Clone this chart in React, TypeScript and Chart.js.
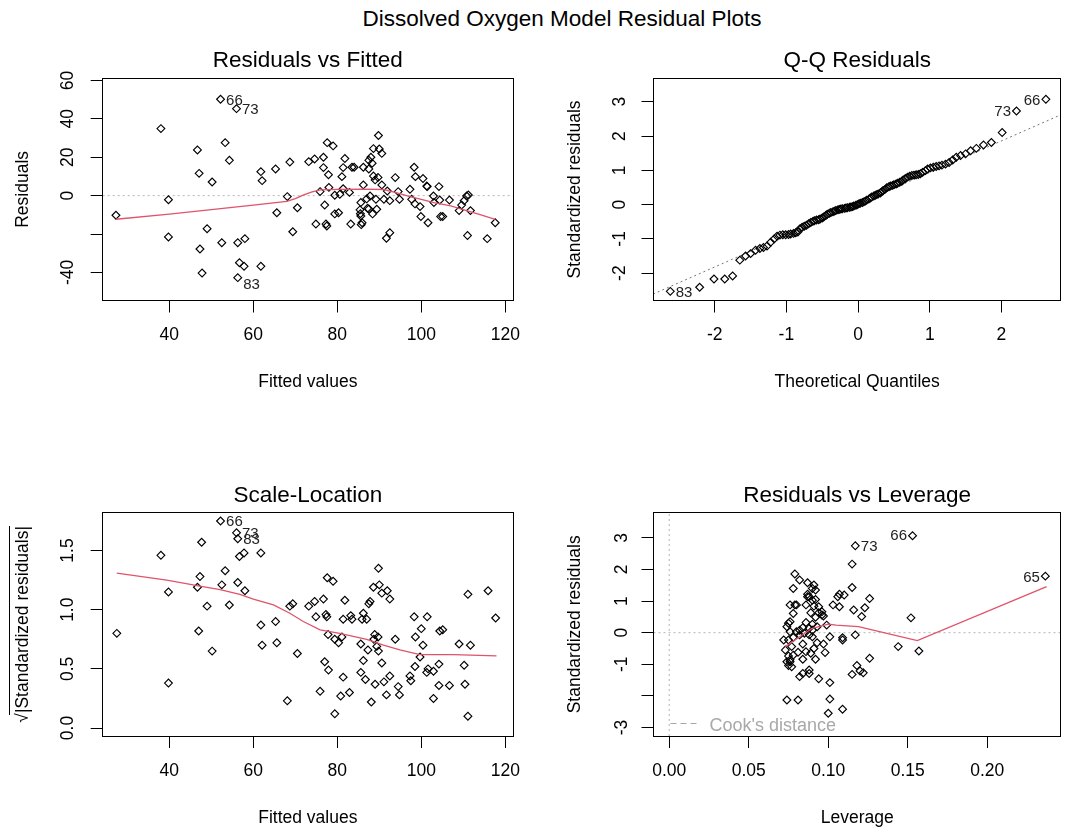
import React, { useEffect, useRef } from "react";
import { Chart, registerables } from "chart.js";
Chart.register(...registerables);

const FONT = '"Liberation Sans", Arial, Helvetica, sans-serif';
const TICK_FONT = 17.5;
const TITLE_FONT = 22.5;
const LABEL_FONT = 15;
const RED = "#DF536B";

const MAIN_TITLE = "Dissolved Oxygen Model Residual Plots";

// ---------- Residuals vs Fitted ----------
const RVF_FITTED = [27.3, 38.0, 39.8, 39.8, 46.7, 47.1, 49.0, 47.3, 47.8, 50.2, 52.2, 56.0, 53.3, 54.3, 52.5, 56.3, 58.0, 56.7, 57.8, 56.3, 61.8, 61.8, 62.1, 65.3, 65.6, 68.1, 68.7, 69.4, 70.5, 73.2, 74.6, 74.9, 75.9, 76.7, 76.7, 77.0, 77.3, 77.5, 77.6, 79.0, 77.9, 78.0, 79.4, 79.4, 80.3, 80.6, 81.1, 81.4, 81.8, 81.4, 82.9, 83.2, 83.5, 84.0, 85.6, 85.5, 85.7, 85.9, 86.2, 86.2, 87.0, 87.5, 87.5, 88.0, 87.8, 87.5, 88.4, 88.6, 88.6, 89.0, 89.2, 89.4, 89.8, 90.0, 90.6, 89.7, 90.6, 91.1, 91.7, 92.5, 91.9, 92.5, 93.8, 94.5, 94.8, 97.3, 97.7, 98.3, 98.6, 98.5, 99.7, 99.9, 100.4, 101.3, 101.4, 101.6, 102.9, 103.0, 104.2, 104.4, 104.6, 105.1, 106.7, 109.0, 109.6, 110.2, 110.8, 111.2, 111.0, 111.7, 115.7, 117.6, 85.4, 87.2, 85.6, 88.3];
const RVF_RESID = [-10.2, 34.9, -2.1, -21.5, 23.8, 11.6, -17.2, -27.8, -40.3, 7.1, 50.2, 45.3, 27.6, 18.4, -24.5, -24.5, -22.4, -34.9, -36.8, -42.7, -36.8, 12.5, 7.8, 13.9, -8.9, -0.5, 17.5, -18.8, -6.3, 17.7, 19.1, -14.8, 2.1, 20.0, 14.6, -4.9, -14.8, -15.8, 27.6, 25.9, 10.9, 4.3, 0.2, -9.5, -8.9, 0.7, 9.9, 14.6, 19.3, 3.6, 1.7, -14.8, 14.8, 14.8, -3.6, -9.4, -15.1, -14.1, 5.6, 14.8, -1.7, 13.9, 18.4, 20.0, -0.2, -6.9, -9.5, 24.5, 10.2, 8.2, -1.9, -7.1, 31.3, 24.3, 22.0, 9.5, 5.6, -1.9, -22.2, -19.3, 2.4, -2.6, 9.4, 2.1, -1.9, 3.3, -1.9, 14.8, 9.9, -4.3, -5.7, -10.9, 8.9, 5.0, 4.7, -14.1, -0.2, -3.6, 4.7, -2.3, -10.9, -10.9, -2.3, -7.8, -4.9, -2.6, -0.2, 0.3, -20.8, -7.8, -22.4, -14.1, -7.4, -6.6, -10.6, 16.9];
const RVF_SMOOTH_X = [27.3, 40, 50, 60, 68, 70, 72, 74, 76, 80, 86, 91, 94, 97.3, 100, 103, 107, 110.8, 114, 117.6];
const RVF_SMOOTH_Y = [-12.3, -9.6, -7.3, -4.9, -3.0, -1.6, 0.4, 2.0, 3.0, 3.3, 3.4, 3.2, 1.6, -0.5, -2.0, -3.6, -5.3, -7.8, -9.9, -12.3];
const RVF_X_TICKS = [40, 60, 80, 100, 120];
const RVF_Y_TICKS = [-40, -20, 0, 20, 40, 60];

// ---------- Q-Q Residuals ----------
const QQ_THEO = [-2.62, -2.21, -2.01, -1.86, -1.75, -1.65, -1.57, -1.50, -1.43, -1.37, -1.32, -1.27, -1.22, -1.17, -1.13, -1.09, -1.05, -1.01, -0.97, -0.94, -0.90, -0.87, -0.84, -0.81, -0.78, -0.75, -0.72, -0.69, -0.66, -0.63, -0.61, -0.58, -0.55, -0.53, -0.50, -0.48, -0.45, -0.43, -0.40, -0.38, -0.35, -0.33, -0.31, -0.28, -0.26, -0.24, -0.22, -0.19, -0.17, -0.15, -0.12, -0.10, -0.08, -0.06, -0.03, -0.01,
  0.01, 0.03, 0.06, 0.08, 0.10, 0.12, 0.15, 0.17, 0.19, 0.22, 0.24, 0.26, 0.28, 0.31, 0.33, 0.35, 0.38, 0.40, 0.43, 0.45, 0.48, 0.50, 0.53, 0.55, 0.58, 0.61, 0.63, 0.66, 0.69, 0.72, 0.75, 0.78, 0.81, 0.84, 0.87, 0.90, 0.94, 0.97, 1.01, 1.05, 1.09, 1.13, 1.17, 1.22, 1.27, 1.32, 1.37, 1.43, 1.50, 1.57, 1.65, 1.75, 1.86, 2.01, 2.21, 2.62];
const QQ_STD = [-2.53, -2.41, -2.17, -2.17, -2.08, -1.62, -1.50, -1.43, -1.33, -1.28, -1.25, -1.21, -1.10, -1.00, -0.92, -0.89, -0.88, -0.88, -0.87, -0.86, -0.84, -0.82, -0.80, -0.70, -0.66, -0.63, -0.60, -0.56, -0.52, -0.49, -0.47, -0.45, -0.44, -0.42, -0.39, -0.36, -0.32, -0.28, -0.25, -0.23, -0.21, -0.19, -0.17, -0.15, -0.14, -0.13, -0.12, -0.11, -0.10, -0.09, -0.08, -0.07, -0.06, -0.04, -0.02, 0.00,
  0.02, 0.04, 0.06, 0.08, 0.10, 0.13, 0.16, 0.19, 0.22, 0.25, 0.27, 0.29, 0.31, 0.34, 0.37, 0.41, 0.45, 0.49, 0.52, 0.54, 0.56, 0.58, 0.60, 0.62, 0.65, 0.68, 0.72, 0.76, 0.80, 0.83, 0.85, 0.86, 0.87, 0.88, 0.90, 0.94, 0.99, 1.04, 1.07, 1.09, 1.11, 1.13, 1.15, 1.18, 1.23, 1.30, 1.38, 1.43, 1.48, 1.57, 1.64, 1.74, 1.81, 2.10, 2.73, 3.07];
const QQ_LINE_X = [-2.86, 2.83];
const QQ_LINE_Y = [-2.61, 2.62];
const QQ_X_TICKS = [-2, -1, 0, 1, 2];
const QQ_Y_TICKS = [-2, -1, 0, 1, 2, 3];

// ---------- Scale-Location ----------
const SL_FITTED = [27.5, 38.0, 39.8, 39.8, 46.7, 47.3, 47.7, 47.0, 49.0, 50.2, 52.2, 53.3, 52.5, 54.3, 56.0, 56.3, 56.3, 56.7, 57.8, 58.0, 61.8, 61.8, 62.1, 65.3, 65.6, 68.1, 68.7, 69.4, 70.5, 73.2, 74.6, 74.9, 75.9, 76.7, 77.0, 77.3, 77.5, 77.6, 77.9, 79.0, 77.8, 79.4, 79.4, 80.3, 80.8, 81.1, 81.4, 81.8, 81.4, 82.9, 83.2, 83.5, 85.6, 85.6, 85.9, 86.2, 86.7, 86.2, 87.0, 87.5, 87.8, 87.3, 88.1, 88.6, 88.7, 88.9, 89.0, 89.4, 89.8, 90.0, 90.6, 89.7, 89.8, 90.6, 91.1, 91.7, 91.9, 92.5, 92.5, 93.8, 94.5, 94.8, 97.3, 97.5, 98.3, 98.5, 98.6, 99.7, 100.0, 100.4, 101.4, 101.3, 101.6, 102.9, 102.9, 104.2, 104.2, 104.4, 105.1, 106.7, 109.0, 110.2, 110.4, 111.1, 111.7, 111.1, 115.9, 117.7];
const SL_ROOT = [0.80, 1.46, 1.15, 0.38, 1.19, 1.28, 1.57, 0.82, 1.03, 0.65, 1.75, 1.33, 1.21, 1.04, 1.65, 1.60, 1.23, 1.45, 1.48, 1.16, 1.48, 0.87, 0.70, 0.90, 0.72, 0.23, 1.03, 1.05, 0.63, 1.03, 1.07, 0.94, 0.31, 1.09, 0.56, 0.96, 0.94, 1.27, 0.49, 1.24, 0.79, 0.12, 0.75, 0.72, 0.27, 0.77, 0.43, 1.08, 0.92, 0.30, 0.95, 0.92, 0.71, 0.47, 0.92, 0.57, 0.41, 0.97, 0.92, 1.05, 1.07, 0.66, 0.22, 1.19, 0.75, 0.79, 0.37, 0.69, 1.35, 1.21, 1.14, 0.77, 0.65, 0.55, 0.39, 0.28, 1.16, 1.09, 0.44, 0.75, 0.35, 0.28, 0.44, 0.40, 0.94, 0.52, 0.77, 0.60, 0.84, 0.70, 0.94, 0.47, 0.50, 0.48, 0.25, 0.54, 0.36, 0.82, 0.83, 0.36, 0.71, 0.53, 0.37, 1.13, 0.70, 0.10, 1.16, 0.93];
const SL_SMOOTH_X = [27.5, 39.4, 47.3, 52.1, 56.8, 60.0, 64.8, 68.7, 71.9, 75.9, 80.6, 87.0, 91.0, 94.9, 99.7, 107.6, 117.9];
const SL_SMOOTH_Y = [1.31, 1.25, 1.20, 1.17, 1.13, 1.09, 1.04, 0.97, 0.90, 0.83, 0.80, 0.75, 0.70, 0.66, 0.62, 0.62, 0.61];
const SL_Y_TICKS = [0, 0.5, 1, 1.5];

// ---------- Residuals vs Leverage ----------
const LEV_H = [0.153, 0.117, 0.2365, 0.115, 0.115, 0.126, 0.123, 0.121, 0.116, 0.117, 0.110, 0.107, 0.106, 0.107, 0.103, 0.099, 0.101, 0.109, 0.109, 0.098, 0.101, 0.101, 0.100, 0.109, 0.115, 0.118, 0.120, 0.122, 0.126, 0.144, 0.152, 0.157, 0.094, 0.088, 0.088, 0.082, 0.084, 0.084, 0.074, 0.081, 0.075, 0.074, 0.076, 0.073, 0.072, 0.075, 0.077, 0.076, 0.075, 0.078, 0.076, 0.079, 0.078, 0.079, 0.082, 0.087, 0.091, 0.092, 0.088, 0.090, 0.092, 0.086, 0.091, 0.089, 0.094, 0.096, 0.097, 0.092, 0.086, 0.090, 0.088, 0.084, 0.082, 0.080, 0.085, 0.088, 0.090, 0.093, 0.097, 0.091, 0.084, 0.086, 0.089, 0.092, 0.081, 0.078, 0.075, 0.078, 0.082, 0.074, 0.076, 0.080, 0.087, 0.090, 0.087, 0.094, 0.096, 0.076, 0.077, 0.090, 0.093];
const LEV_STD = [3.07, 2.75, 1.79, 2.17, 1.43, 1.08, 0.79, 0.51, 0.72, -0.07, 1.19, 1.22, 1.14, 0.82, 0.88, 0.24, -0.13, -0.16, -0.23, -0.63, -1.58, -2.10, -2.55, -2.42, -1.32, -1.04, -1.21, -1.27, -0.81, -0.44, 0.47, -0.58, -1.46, -1.18, -1.29, -1.39, -1.29, -0.84, -2.13, -2.13, -1.04, -0.92, -0.86, -0.55, -0.23, -0.23, -0.44, 0.03, 0.30, 0.61, 0.88, 0.88, 1.40, 1.86, 1.67, 1.58, 1.51, 1.35, 1.14, 1.03, 1.05, 0.88, 0.84, 0.63, 0.63, 0.56, 0.53, 0.49, 0.32, 0.27, 0.14, 0.16, 0.08, 0.03, -0.02, -0.07, -0.13, -0.32, -0.36, -0.50, -0.36, -0.60, -0.65, -0.84, -0.62, -0.71, -0.74, -0.15, -0.07, 0.19, 0.35, 0.88, 1.14, 1.40, 1.22, 0.82, 0.66, -0.92, -1.08, 0.08, 0.19];
const LEV_SMOOTH_X = [0.073, 0.082, 0.090, 0.100, 0.105, 0.119, 0.156, 0.2373];
const LEV_SMOOTH_Y = [-0.44, -0.13, 0.14, 0.27, 0.24, 0.19, -0.25, 1.46];
const LEV_X_TICKS = [0, 0.05, 0.1, 0.15, 0.2];
const LEV_Y_TICKS = [-3, -2, -1, 0, 1, 2, 3];

type Label = { x: number; y: number; text: string; side: "l" | "r"; dy: number };

const pairs = (xs: number[], ys: number[]) => xs.map((x, i) => ({ x, y: ys[i] }));

const pointsDs = (xs: number[], ys: number[]) => ({
  data: pairs(xs, ys),
  pointStyle: "rectRot",
  pointRadius: 3.9,
  borderColor: "#000",
  backgroundColor: "rgba(0,0,0,0)",
  pointBorderWidth: 1.15,
  showLine: false,
});
const lineDs = (xs: number[], ys: number[], color: string, dash: number[] = [], width = 1.3) => ({
  data: pairs(xs, ys),
  showLine: true,
  borderColor: color,
  borderWidth: width,
  borderDash: dash,
  pointRadius: 0,
  fill: false,
  tension: 0,
});

interface PanelSpec {
  cx: number; cy: number; cw: number; ch: number;
  L: number; T: number; R: number; B: number;
  title: string; titleCY: number;
  xTitle: string; xTitleCY: number; xLabelCY: number;
  yTitle: string; yTitleCX: number; yLabelCX: number; yWidest: number;
  xMin: number; xMax: number; yMin: number; yMax: number;
  xTicks: number[]; yTicks: number[];
  xFmt: (v: number) => string; yFmt: (v: number) => string;
  datasets: any[];
  labels: Label[];
  extra?: (chart: any, p: PanelSpec) => void;
}

const align = (v: number) => Math.round(v - 0.5) + 0.5;

function buildConfig(p: PanelSpec): any {
  const tl = 12;
  const half = (TICK_FONT * 1.2) / 2;
  const tLH = TITLE_FONT * 1.2;
  const yW = p.L - p.cx;
  const xH = p.xTitleCY - p.B + half;
  const titleTop = p.titleCY - p.cy - tLH / 2;
  const titleBottom = p.T - p.cy - titleTop - tLH;
  const padRight = p.cx + p.cw - p.R;
  const padBottom = p.cy + p.ch - (p.B + xH);
  const tickFont = { size: TICK_FONT, family: FONT };

  const deco = {
    id: "deco",
    afterDraw(chart: any) {
      const { ctx, chartArea } = chart;
      const { left, top, right, bottom } = chartArea;
      ctx.save();
      ctx.strokeStyle = "#000";
      ctx.lineWidth = 1;
      const l = align(left), t = align(top), r = align(right), b = align(bottom);
      ctx.strokeRect(l, t, r - l, b - t);
      const xs = chart.scales.x, ys = chart.scales.y;
      ctx.font = `${LABEL_FONT}px ${FONT}`;
      ctx.fillStyle = "#222";
      ctx.textBaseline = "middle";
      for (const lb of p.labels) {
        const px = xs.getPixelForValue(lb.x);
        const py = ys.getPixelForValue(lb.y) + lb.dy;
        if (lb.side === "r") {
          ctx.textAlign = "left";
          ctx.fillText(lb.text, px + 5.5, py);
        } else {
          ctx.textAlign = "right";
          ctx.fillText(lb.text, px - 5.5, py);
        }
      }
      ctx.restore();
      if (p.extra) p.extra(chart, p);
    },
  };

  return {
    type: "scatter",
    data: { datasets: p.datasets },
    plugins: [deco],
    options: {
      responsive: false,
      animation: false,
      devicePixelRatio: 1,
      events: [],
      layout: { padding: { left: 0, right: padRight, top: 0, bottom: padBottom } },
      plugins: {
        legend: { display: false },
        tooltip: { enabled: false },
        title: {
          display: true,
          text: p.title,
          fullSize: false,
          color: "#000",
          font: { size: TITLE_FONT, family: FONT, weight: "normal" },
          padding: { top: titleTop, bottom: titleBottom },
        },
      },
      scales: {
        x: {
          type: "linear",
          position: "bottom",
          min: p.xMin,
          max: p.xMax,
          afterBuildTicks: (s: any) => {
            s.ticks = p.xTicks.map((v) => ({ value: v }));
          },
          afterFit: (s: any) => {
            s.height = xH;
          },
          grid: { display: true, drawOnChartArea: false, drawTicks: true, tickLength: tl, color: "#000", lineWidth: 1 },
          border: { display: true, color: "#000", width: 1 },
          ticks: {
            autoSkip: false,
            minRotation: 0,
            maxRotation: 0,
            padding: p.xLabelCY - p.B - tl - half,
            color: "#000",
            font: tickFont,
            callback: (v: any) => p.xFmt(Number(v)),
          },
          title: { display: true, text: p.xTitle, color: "#000", font: tickFont, padding: { top: 0, bottom: 0 } },
        },
        y: {
          type: "linear",
          position: "left",
          min: p.yMin,
          max: p.yMax,
          afterBuildTicks: (s: any) => {
            s.ticks = p.yTicks.map((v) => ({ value: v }));
          },
          afterFit: (s: any) => {
            s.width = yW;
          },
          grid: { display: true, drawOnChartArea: false, drawTicks: true, tickLength: tl, color: "#000", lineWidth: 1 },
          border: { display: true, color: "#000", width: 1 },
          ticks: {
            autoSkip: false,
            minRotation: 90,
            maxRotation: 90,
            crossAlign: "center",
            padding: p.L - p.yLabelCX - tl - p.yWidest / 2,
            color: "#000",
            font: tickFont,
            callback: (v: any) => p.yFmt(Number(v)),
          },
          title: {
            display: true,
            text: p.yTitle,
            color: "#000",
            font: tickFont,
            padding: { top: p.yTitleCX - p.cx - half, bottom: 0 },
          },
        },
      },
    },
  };
}

// panel boxes
const LEFT_L = 102.7, LEFT_R = 513;
const RIGHT_L = 653.5, RIGHT_R = 1063.3;
const TOP_T = 78.3, TOP_B = 300.5;
const BOT_T = 512.7, BOT_B = 736;

const RVF_MIN = 40 - (169.3 - LEFT_L) / 4.2;
const RVF_MAX = 40 + (LEFT_R - 169.3) / 4.2;

const cooksLegend = (chart: any) => {
  const { ctx, chartArea } = chart;
  const y = chartArea.bottom - 13;
  ctx.save();
  ctx.strokeStyle = "#A6A6A6";
  ctx.lineWidth = 1;
  ctx.setLineDash([6, 4]);
  ctx.beginPath();
  ctx.moveTo(chartArea.left + 17, align(y));
  ctx.lineTo(chartArea.left + 47, align(y));
  ctx.stroke();
  ctx.setLineDash([]);
  ctx.fillStyle = "#A9A9A9";
  ctx.font = `18px ${FONT}`;
  ctx.textAlign = "left";
  ctx.textBaseline = "middle";
  ctx.fillText("Cook's distance", chartArea.left + 56, chartArea.bottom - 10);
  ctx.restore();
};

// overbar of the square-root sign in the Scale-Location axis title
const sqrtBar = (chart: any, p: PanelSpec) => {
  const { ctx, chartArea } = chart;
  ctx.save();
  ctx.font = `${TICK_FONT}px ${FONT}`;
  const w = ctx.measureText(p.yTitle).width;
  const wr = ctx.measureText("√").width;
  const cy = (chartArea.top + chartArea.bottom) / 2;
  const x = align(p.yTitleCX - p.cx - 13.2);
  ctx.strokeStyle = "#000";
  ctx.lineWidth = 1;
  ctx.beginPath();
  ctx.moveTo(x, cy + w / 2 - wr * 0.8);
  ctx.lineTo(x, cy - w / 2);
  ctx.stroke();
  ctx.restore();
};

const intFmt = (v: number) => String(Math.round(v * 100) / 100);

const PANELS: PanelSpec[] = [
  {
    cx: 0, cy: 30, cw: 533, ch: 380,
    L: LEFT_L, T: TOP_T, R: LEFT_R, B: TOP_B,
    title: "Residuals vs Fitted", titleCY: 61,
    xTitle: "Fitted values", xTitleCY: 382, xLabelCY: 335,
    yTitle: "Residuals", yTitleCX: 23, yLabelCX: 68, yWidest: 25.3,
    xMin: RVF_MIN, xMax: RVF_MAX, yMin: -54.6, yMax: 61.1,
    xTicks: RVF_X_TICKS, yTicks: RVF_Y_TICKS,
    xFmt: intFmt, yFmt: (v) => (v === -20 ? "" : intFmt(v)),
    datasets: [
      lineDs(RVF_SMOOTH_X, RVF_SMOOTH_Y, RED),
      pointsDs(RVF_FITTED, RVF_RESID),
      lineDs([RVF_MIN, RVF_MAX], [0, 0], "#B5B5B5", [2, 3], 1),
    ],
    labels: [
      { x: 52.2, y: 50.2, text: "66", side: "r", dy: 2 },
      { x: 56.0, y: 45.3, text: "73", side: "r", dy: 1 },
      { x: 56.3, y: -42.7, text: "83", side: "r", dy: 7 },
    ],
  },
  {
    cx: 533, cy: 30, cw: 533, ch: 380,
    L: RIGHT_L, T: TOP_T, R: RIGHT_R, B: TOP_B,
    title: "Q-Q Residuals", titleCY: 61,
    xTitle: "Theoretical Quantiles", xTitleCY: 382, xLabelCY: 335,
    yTitle: "Standardized residuals", yTitleCX: 575, yLabelCX: 620.5, yWidest: 15.6,
    xMin: -2.854, xMax: 2.829, yMin: -2.797, yMax: 3.683,
    xTicks: QQ_X_TICKS, yTicks: QQ_Y_TICKS,
    xFmt: intFmt, yFmt: intFmt,
    datasets: [
      pointsDs(QQ_THEO, QQ_STD),
      lineDs(QQ_LINE_X, QQ_LINE_Y, "#777777", [2, 3], 1),
    ],
    labels: [
      { x: -2.62, y: -2.53, text: "83", side: "r", dy: 2 },
      { x: 2.21, y: 2.73, text: "73", side: "l", dy: 1 },
      { x: 2.62, y: 3.07, text: "66", side: "l", dy: 2 },
    ],
  },
  {
    cx: 0, cy: 440, cw: 533, ch: 393,
    L: LEFT_L, T: BOT_T, R: LEFT_R, B: BOT_B,
    title: "Scale-Location", titleCY: 496,
    xTitle: "Fitted values", xTitleCY: 818, xLabelCY: 771,
    yTitle: "√|Standardized residuals|", yTitleCX: 23, yLabelCX: 68.3, yWidest: 24.3,
    xMin: RVF_MIN, xMax: RVF_MAX, yMin: -0.0676, yMax: 1.82,
    xTicks: RVF_X_TICKS, yTicks: SL_Y_TICKS,
    xFmt: intFmt, yFmt: (v) => v.toFixed(1),
    datasets: [
      lineDs(SL_SMOOTH_X, SL_SMOOTH_Y, RED),
      pointsDs(SL_FITTED, SL_ROOT),
    ],
    labels: [
      { x: 52.2, y: 1.75, text: "66", side: "r", dy: 1 },
      { x: 56.0, y: 1.65, text: "73", side: "r", dy: 1 },
      { x: 56.3, y: 1.60, text: "83", side: "r", dy: 1 },
    ],
    extra: sqrtBar,
  },
  {
    cx: 533, cy: 440, cw: 533, ch: 393,
    L: RIGHT_L, T: BOT_T, R: RIGHT_R, B: BOT_B,
    title: "Residuals vs Leverage", titleCY: 496,
    xTitle: "Leverage", xTitleCY: 818, xLabelCY: 771,
    yTitle: "Standardized residuals", yTitleCX: 575, yLabelCX: 621.7, yWidest: 15.6,
    xMin: -0.00988, xMax: 0.24625, yMin: -3.269, yMax: 3.797,
    xTicks: LEV_X_TICKS, yTicks: LEV_Y_TICKS,
    xFmt: (v) => v.toFixed(2), yFmt: (v) => (v === -2 ? "" : intFmt(v)),
    datasets: [
      lineDs(LEV_SMOOTH_X, LEV_SMOOTH_Y, RED),
      pointsDs(LEV_H, LEV_STD),
      lineDs([-0.00988, 0.24625], [0, 0], "#B5B5B5", [2, 3], 1),
      lineDs([0, 0], [-3.269, 3.797], "#B5B5B5", [2, 3], 1),
    ],
    labels: [
      { x: 0.117, y: 2.75, text: "73", side: "r", dy: 1 },
      { x: 0.153, y: 3.07, text: "66", side: "l", dy: 0 },
      { x: 0.2365, y: 1.79, text: "65", side: "l", dy: 2 },
    ],
    extra: cooksLegend,
  },
];

function Panel({ spec }: { spec: PanelSpec }) {
  const ref = useRef<HTMLCanvasElement | null>(null);
  useEffect(() => {
    if (!ref.current) return;
    const chart = new Chart(ref.current, buildConfig(spec));
    return () => chart.destroy();
  }, [spec]);
  return (
    <canvas
      ref={ref}
      width={spec.cw}
      height={spec.ch}
      style={{ position: "absolute", left: spec.cx, top: spec.cy, width: spec.cw, height: spec.ch }}
    />
  );
}

export default function App() {
  return (
    <div style={{ position: "fixed", left: 0, top: 0, width: 1066, height: 833, background: "#fff", overflow: "hidden" }}>
      <div
        style={{
          position: "absolute",
          left: 562,
          top: 6,
          transform: "translateX(-50%)",
          whiteSpace: "nowrap",
          fontFamily: FONT,
          fontSize: TITLE_FONT,
          lineHeight: "26px",
          color: "#000",
        }}
      >
        {MAIN_TITLE}
      </div>
      {PANELS.map((p, i) => (
        <Panel key={i} spec={p} />
      ))}
    </div>
  );
}
